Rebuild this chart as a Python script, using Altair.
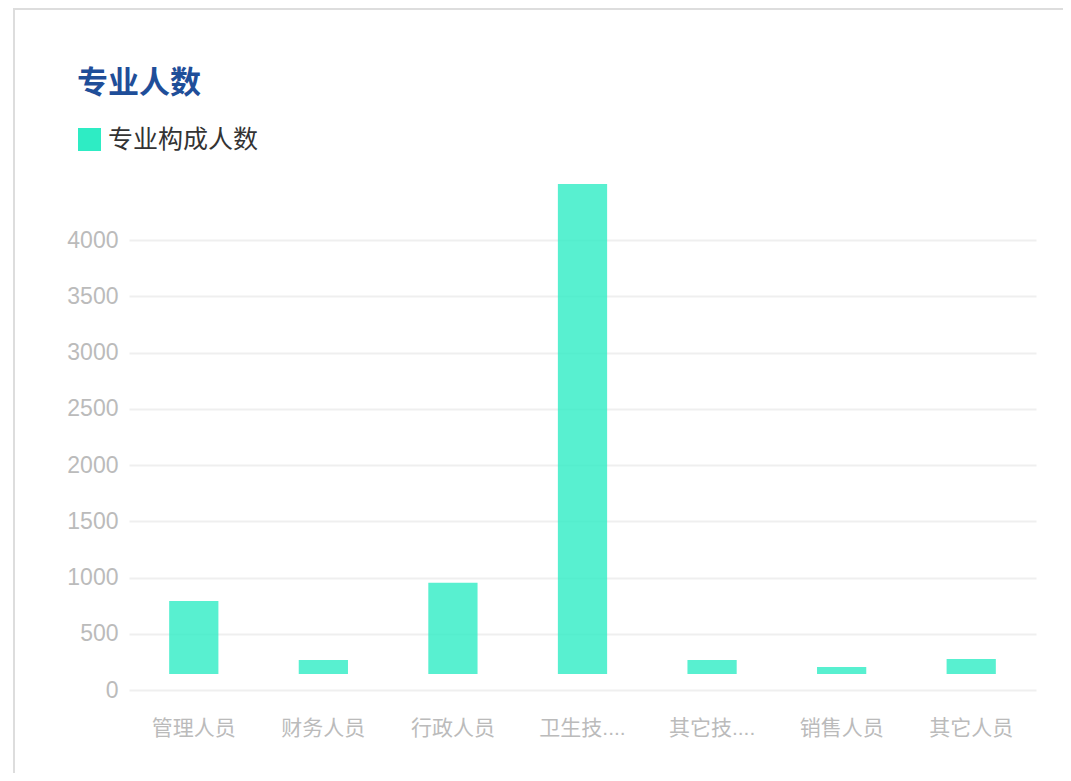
import altair as alt
import pandas as pd

categories = ["管理人员", "财务人员", "行政人员", "卫生技术人员", "其它技术人员", "销售人员", "其它人员"]
values = [792, 267, 953, 4500, 267, 205, 276]
base_value = 142
series_name = "专业构成人数"
y_ticks = [0, 500, 1000, 1500, 2000, 2500, 3000, 3500, 4000]
y_max = 4500

FONT = "Liberation Sans, Noto Sans CJK SC, sans-serif"
BAR_COLOR = "#2EECC4"

df = pd.DataFrame({"category": categories, "value": values, "series": series_name})

frame = alt.Chart(df).mark_rect(
    fill=None, fillOpacity=0, stroke="#DDDDDD", strokeWidth=2
).encode(
    x=alt.value(-115), x2=alt.value(2000),
    y=alt.value(-175), y2=alt.value(2000)
)

bars = alt.Chart(df).mark_bar(width={"band": 0.38}, opacity=0.8).encode(
    x=alt.X("category:N", sort=categories, title=None,
            scale=alt.Scale(paddingInner=0, paddingOuter=0),
            axis=alt.Axis(labelAngle=0, domain=False, ticks=False, tickSize=0,
                          labelPadding=27, labelFontSize=21, labelColor="#BBBBBB",
                          labelFont=FONT, grid=False,
                          labelExpr="length(datum.label) > 4 ? substring(datum.label, 0, 3) + '....' : datum.label")),
    y=alt.Y("value:Q", title=None,
            scale=alt.Scale(domain=[0, y_max], nice=False, zero=True),
            axis=alt.Axis(values=y_ticks, format="d", domain=False, ticks=False, tickSize=0,
                          labelPadding=11, labelFontSize=23, labelColor="#BBBBBB",
                          labelFont=FONT, grid=True, gridColor="#EFEFEF", gridWidth=2)),
    y2=alt.datum(base_value),
    color=alt.Color("series:N", title=None,
                    scale=alt.Scale(domain=[series_name], range=[BAR_COLOR]),
                    legend=alt.Legend(orient="none", legendX=-52, legendY=-57,
                                      symbolType="square", symbolSize=529,
                                      symbolOpacity=1, symbolStrokeWidth=0,
                                      labelFontSize=25, labelColor="#333333",
                                      labelFont=FONT, padding=0, labelOffset=6)),
)

chart = alt.layer(frame, bars).properties(
    width=907,
    height=506,
    title=alt.TitleParams("专业人数", anchor="start", frame="group", fontSize=31,
                          fontWeight="bold", color="#1F4E99", font=FONT, dx=-52, dy=96),
    autosize=alt.AutoSizeParams(type="none"),
    padding={"left": 121, "top": 176, "right": 27, "bottom": 83},
).configure_view(stroke=None)

chart.save("out.html", embed_options={"renderer": "svg", "actions": False})
